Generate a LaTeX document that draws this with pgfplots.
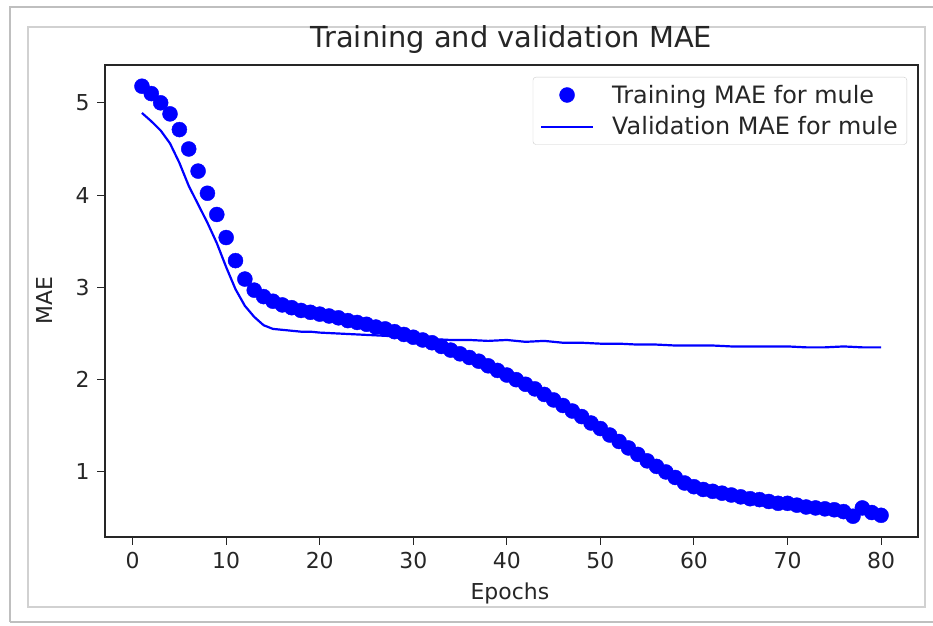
\documentclass[border=0pt]{standalone}
\usepackage{pgfplots}
\pgfplotsset{compat=1.18}
\usepackage{pgfplotstable}
\usepackage{fontspec}
\setmainfont{DejaVu Sans}
\definecolor{txt}{HTML}{262626}
\definecolor{mplblue}{HTML}{0000FF}

\pgfplotstableread{
epoch train
1 5.18
2 5.10
3 5.00
4 4.88
5 4.71
6 4.50
7 4.26
8 4.02
9 3.79
10 3.54
11 3.29
12 3.09
13 2.97
14 2.90
15 2.85
16 2.81
17 2.78
18 2.75
19 2.73
20 2.71
21 2.69
22 2.67
23 2.64
24 2.62
25 2.60
26 2.57
27 2.55
28 2.52
29 2.49
30 2.46
31 2.43
32 2.40
33 2.36
34 2.32
35 2.28
36 2.24
37 2.20
38 2.15
39 2.10
40 2.05
41 2.00
42 1.95
43 1.90
44 1.84
45 1.78
46 1.72
47 1.66
48 1.60
49 1.53
50 1.47
51 1.40
52 1.33
53 1.26
54 1.19
55 1.12
56 1.06
57 1.00
58 0.94
59 0.88
60 0.84
61 0.81
62 0.79
63 0.77
64 0.75
65 0.73
66 0.71
67 0.70
68 0.68
69 0.66
70 0.66
71 0.64
72 0.62
73 0.61
74 0.60
75 0.59
76 0.57
77 0.52
78 0.61
79 0.56
80 0.53
}\traintable

\pgfplotstableread{
epoch val
1 4.89
2 4.80
3 4.70
4 4.56
5 4.35
6 4.10
7 3.90
8 3.70
9 3.48
10 3.22
11 2.98
12 2.80
13 2.68
14 2.59
15 2.55
16 2.54
17 2.53
18 2.52
19 2.52
20 2.51
22 2.50
24 2.49
26 2.48
28 2.47
30 2.45
32 2.44
34 2.43
36 2.43
38 2.42
40 2.43
42 2.41
44 2.42
46 2.40
48 2.40
50 2.39
52 2.39
54 2.38
56 2.38
58 2.37
60 2.37
62 2.37
64 2.36
66 2.36
68 2.36
70 2.36
72 2.35
74 2.35
76 2.36
78 2.35
80 2.35
}\valtable

\begin{document}
\begin{tikzpicture}[x=1bp,y=1bp]
\useasboundingbox (0,0) rectangle (933,626);
\fill[white] (0,0) rectangle (933,626);
% screenshot frames
\draw[black!25, line width=1.2bp] (10,4) -- (10,619) -- (933,619);
\draw[black!25, line width=1.2bp] (10,4) -- (933,4);
\draw[black!18, line width=1.2bp] (28,19) rectangle (925,599);
\begin{axis}[
  at={(105bp,89bp)}, anchor=south west,
  width=813bp, height=472bp, scale only axis,
  xmin=-2.95, xmax=83.95, ymin=0.295, ymax=5.41,
  xtick={0,10,...,80}, ytick={1,2,3,4,5},
  tick align=outside, major tick length=8bp,
  tick style={txt, line width=1bp},
  axis line style={txt, line width=1.2bp},
  xtick pos=bottom, ytick pos=left,
  /pgf/number format/assume math mode=true,
  ticklabel style={font=\fontsize{22}{26}\selectfont, text=txt},
  xticklabel style={yshift=-4bp},
  yticklabel style={xshift=-4bp},
  title={Training and validation MAE},
  title style={at={(axis description cs:0.5,1)}, anchor=base, yshift=12bp,
    font=\fontsize{29}{33}\selectfont, text=txt},
  xlabel={Epochs},
  xlabel style={at={(axis description cs:0.498,-0.1186)}, anchor=center,
    font=\fontsize{22}{26}\selectfont, text=txt},
  ylabel={MAE},
  ylabel style={at={(axis description cs:-0.0738,0.5)}, anchor=center,
    font=\fontsize{22}{26}\selectfont, text=txt},
  legend style={at={(axis cs:83.95,5.41)}, anchor=north east,
    xshift=-11bp, yshift=-12bp,
    draw=black!20, rounded corners=3bp, fill=white,
    font=\fontsize{24}{28}\selectfont, text=txt,
    inner xsep=7bp, inner ysep=6bp,
    row sep=8bp, column sep=16bp, cells={anchor=west}},
  legend image code/.code={%
    \draw[mark repeat=2,mark phase=2,#1]
      plot coordinates {(0bp,0bp) (26bp,0bp) (52bp,0bp)};},
]
\addplot[only marks, mark=*, mark size=7.5bp, mplblue, mark options={draw=mplblue, fill=mplblue}]
  table[x=epoch, y=train] {\traintable};
\addlegendentry{Training MAE for mule}
\addplot[mplblue, line width=2.2bp, no marks]
  table[x=epoch, y=val] {\valtable};
\addlegendentry{Validation MAE for mule}
\end{axis}
\end{tikzpicture}
\end{document}
